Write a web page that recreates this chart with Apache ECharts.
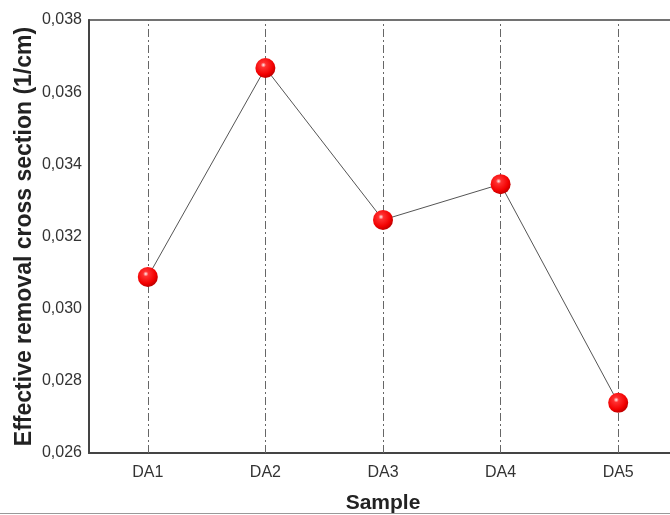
<!DOCTYPE html>
<html><head><meta charset="utf-8">
<script src="https://cdn.jsdelivr.net/npm/echarts@6/dist/echarts.min.js"></script>
<style>html,body{margin:0;padding:0;background:#fff}#c{width:670px;height:515px}</style>
</head><body><div id="c"></div>
<script>
var categories = ['DA1','DA2','DA3','DA4','DA5'];
var values = [0.03088, 0.03667, 0.03246, 0.03345, 0.02739];
var yTicks = ['0,026','0,028','0,030','0,032','0,034','0,036','0,038'];
var yMin = 0.026, yMax = 0.038, yStep = 0.002;

var chart = echarts.init(document.getElementById('c'));
chart.setOption({
  animation: false,
  backgroundColor: '#fff',
  grid: {left: 89, top: 20, width: 588, height: 433, outerBoundsMode: 'none', containLabel: false,
    show: true, borderColor: '#444', borderWidth: 1.5, backgroundColor: 'transparent'},
  xAxis: {
    type: 'category', data: categories, boundaryGap: true,
    name: 'Sample', nameLocation: 'middle', nameGap: 40, nameMoveOverlap: false,
    nameTextStyle: {fontFamily: 'Liberation Sans', fontWeight: 'bold', fontSize: 21, color: '#222'},
    axisLine: {lineStyle: {color: '#444', width: 2}},
    axisTick: {show: false},
    axisLabel: {fontFamily: 'Liberation Sans', fontSize: 16, color: '#333', margin: 12},
    splitLine: {show: false}
  },
  yAxis: {
    type: 'value', min: yMin, max: yMax, interval: yStep,
    name: 'Effective removal cross section (1/cm)', nameLocation: 'middle', nameGap: 53, nameMoveOverlap: false,
    nameTextStyle: {fontFamily: 'Liberation Sans', fontWeight: 'bold', fontSize: 23, color: '#222'},
    axisLine: {show: true, lineStyle: {color: '#444', width: 2}},
    axisTick: {show: false},
    axisLabel: {fontFamily: 'Liberation Sans', fontSize: 16, color: '#333', margin: 7,
      formatter: function (v) { return yTicks[Math.round((v - yMin) / yStep)]; }},
    splitLine: {show: false}
  },
  graphic: [{type: 'line', shape: {x1: 0, y1: 513.5, x2: 670, y2: 513.5}, style: {stroke: '#999', lineWidth: 1}}],
  series: [{
    type: 'line', data: values,
    lineStyle: {color: '#555', width: 1},
    symbol: 'circle', symbolSize: 20,
    itemStyle: {
      color: new echarts.graphic.RadialGradient(0.4, 0.35, 0.65, [
        {offset: 0, color: '#fff0f0'}, {offset: 0.2, color: '#ff3030'}, {offset: 0.75, color: '#f20000'}, {offset: 1, color: '#c00000'}
      ]),
      borderWidth: 0
    },
    markLine: {
      silent: true, symbol: 'none', label: {show: false}, z: 1,
      lineStyle: {color: '#666', width: 1, type: [8, 3, 2, 3]},
      data: categories.map(function (c) { return {xAxis: c}; })
    },
    z: 3
  }]
});
</script></body></html>
